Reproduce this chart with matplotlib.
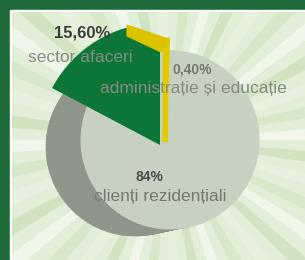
import numpy as np
import matplotlib
matplotlib.use('Agg')
import matplotlib.pyplot as plt
from matplotlib.patches import Rectangle, Wedge, Polygon

plt.rcParams['font.family'] = ['Liberation Sans', 'DejaVu Sans']

# date
categorii = ['sector afaceri', 'clienți rezidențiali', 'administrație și educație']
procente = [15.60, 84.0, 0.40]
etichete_proc = ['15,60%', '84%', '0,40%']

W, H = 305, 260
fig = plt.figure(figsize=(W / 100, H / 100), dpi=100, facecolor='#1f6a3b')
ax = fig.add_axes([0, 0, 1, 1])

# fundal: chenar alb + raze
ax.add_patch(Rectangle((10, 0), W, H - 10, color='white', zorder=0))
fundal = Rectangle((12, 0), W, H - 12, color='#e2eed8', zorder=0)
ax.add_patch(fundal)
cx, cy = 168, 120
unghiuri = np.arange(0, 360, 9)
nuante = ['#f4f9ef', '#d5e6c6', '#eaf3e1', '#cde1bc']
for i, a in enumerate(unghiuri):
    w = Wedge((cx, cy), 400, a, a + 4.5, color=nuante[i % 4], zorder=0.5,
              lw=0, alpha=0.8)
    ax.add_patch(w)
    w.set_clip_path(fundal)

# partea laterala (umbra) a discului
for k in np.linspace(0, 1, 20):
    pw, _ = ax.pie(procente, startangle=90, counterclock=True, radius=89,
                   center=(cx - 33 * (1 - k), cy - 7 * (1 - k)),
                   colors=['#8e968c'] * 3,
                   wedgeprops=dict(lw=0.6, edgecolor='#8e968c'))
    for p in pw:
        p.set_zorder(1)

# fata discului
fata_col = '#c7d1c1'
wedges, _ = ax.pie(procente, startangle=90, counterclock=True, radius=89,
                   center=(cx + 2, cy), colors=[fata_col] * 3,
                   wedgeprops=dict(lw=0.8, edgecolor=fata_col))
for p in wedges:
    p.set_zorder(2)

# felia galbena (0,40%) cu grosime
g = wedges[2]
galben = Wedge((cx - 3, cy - 2), 102, g.theta1, g.theta2, facecolor='#e3ca00',
               edgecolor='#e3ca00', lw=3.5, zorder=3)
ax.add_patch(galben)
t2 = np.radians(g.theta2)
T = np.array(galben.center) + 102 * np.array([np.cos(t2), np.sin(t2)])
fata = [T + [-38, 15], T + [3, 1], T + [4, -3], T + [-4, -12], T + [-38, 4]]
ax.add_patch(Polygon(fata, closed=True, facecolor='#dcc300',
                     edgecolor='#dcc300', lw=0.8, zorder=5))

# felia verde (15,60%) ridicata, taiata sub fata galbena
verde = wedges[0]
mare = Wedge((cx - 8, cy - 5), 122, verde.theta1, verde.theta2 + 6,
             facecolor='#0c7639', lw=0, zorder=4)
ax.add_patch(mare)
a0, a1 = np.array(fata[0]), np.array(fata[1])
d = a1 - a0
taiere = Polygon([a0 - 3 * d, a1 + 3 * d, a1 + 3 * d + [0, -400],
                  a0 - 3 * d + [0, -400]], closed=True, transform=ax.transData)
mare.set_clip_path(taiere)

# etichete
gri = '#858d82'
ax.text(82, 227, etichete_proc[0], ha='center', va='center', fontsize=12,
        fontweight='bold', color='#3d3d3d', zorder=6)
ax.text(80, 203, categorii[0], ha='center', va='center', fontsize=12.5,
        color=gri, zorder=6)
ax.text(192, 190, etichete_proc[2], ha='center', va='center', fontsize=10,
        fontweight='bold', color='#737a70', zorder=6)
ax.text(193, 172, categorii[2], ha='center', va='center', fontsize=12.5,
        color=gri, zorder=6)
ax.text(149, 83, etichete_proc[1], ha='center', va='center', fontsize=10,
        fontweight='bold', color='#4a4f49', zorder=6)
ax.text(160, 63, categorii[1], ha='center', va='center', fontsize=12.5,
        color='#737a70', zorder=6)

ax.set_xlim(0, W)
ax.set_ylim(0, H)
ax.set_aspect('equal')
ax.axis('off')
fig.savefig('out.png', dpi=100, facecolor=fig.get_facecolor())
